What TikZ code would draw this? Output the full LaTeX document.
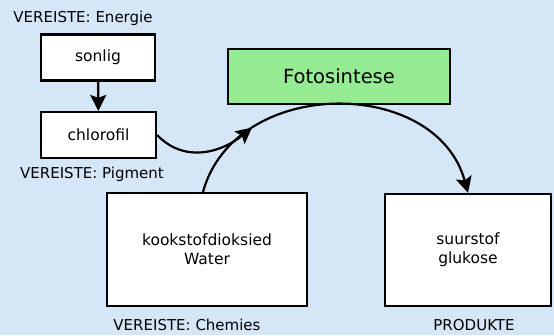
\documentclass[tikz,border=0pt]{standalone}
\usepackage{fontspec}
\setmainfont{DejaVu Sans}
\usetikzlibrary{arrows.meta}
\definecolor{bgblue}{HTML}{D5E7F7}
\definecolor{fotogreen}{HTML}{95EC92}
\tikzset{
  box/.style={draw=black, line width=2.2pt, fill=white, inner sep=0pt, align=center, font=\fontsize{15.5}{19}\selectfont},
  lbl/.style={inner sep=0pt, font=\fontsize{15}{18}\selectfont},
  conn/.style={line width=2.2pt, -{Stealth[length=16pt,width=16pt,inset=3pt]}}
}
\begin{document}
\begin{tikzpicture}[x=1pt,y=-1pt]
\fill[bgblue] (0,0) rectangle (554,335);
\useasboundingbox (0,0) rectangle (554,335);
\node[box, minimum width=114pt, minimum height=46pt] (sonlig) at (98,57.5) {sonlig};
\node[box, minimum width=115pt, minimum height=46pt] (chloro) at (98.5,135) {chlorofil};
\node[box, fill=fotogreen, minimum width=222pt, minimum height=55pt, font=\fontsize{19.5}{23}\selectfont] (foto) at (339,76.5) {Fotosintese};
\node[box, minimum width=200pt, minimum height=113pt] (kook) at (207,249.5) {kookstofdioksied\\Water};
\node[box, minimum width=166pt, minimum height=112pt] (suur) at (468,250) {suurstof\\glukose};
\node[lbl] (l1) at (83,18) {VEREISTE: Energie};
\node[lbl] (l2) at (92,174) {VEREISTE: Pigment};
\node[lbl] (l3) at (187,325) {VEREISTE: Chemies};
\node[lbl] (l4) at (474,325) {PRODUKTE};
\draw[conn] (sonlig) -- (chloro);
\draw[conn] ([xshift=-4pt]kook.north) .. controls (235,76) and (436,76) .. (suur.north)
  coordinate[pos=0.245] (m);
\draw[conn] (chloro.east) .. controls (185,164) and (222,152) .. (m);
\end{tikzpicture}
\end{document}
